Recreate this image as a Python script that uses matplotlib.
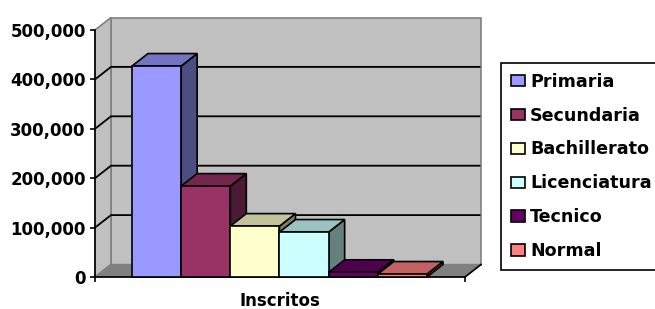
import matplotlib
matplotlib.use("Agg")
import matplotlib.pyplot as plt
from matplotlib.patches import Polygon, Patch
from matplotlib.lines import Line2D
from matplotlib.ticker import FuncFormatter, FixedLocator
from matplotlib.colors import to_rgb

# ---- data ----
categories = ["Primaria", "Secundaria", "Bachillerato", "Licenciatura", "Tecnico", "Normal"]
inscritos = [427000, 184000, 103000, 91000, 9500, 6000]
y_ticks = [0, 100000, 200000, 300000, 400000, 500000]
x_label = "Inscritos"

# ---- styles ----
front_colors = ["#9999FF", "#993366", "#FFFFCC", "#CCFFFF", "#660066", "#FF8080"]
WALL = "#C0C0C0"
FLOOR = "#808080"
WALL_EDGE = "#808080"
EDGE_LW = 1.2


def shade(c, f):
    r, g, b = to_rgb(c)
    return (r * f, g * f, b * f)


W, H, DPI = 655, 309, 100
fig = plt.figure(figsize=(W / DPI, H / DPI), dpi=DPI)
fig.patch.set_facecolor("white")

# front plane of the 3-D box
ax_left, ax_right, ax_top, ax_bottom = 95, 465, 30, 277
ax = fig.add_axes([ax_left / W, 1 - ax_bottom / H, (ax_right - ax_left) / W, (ax_bottom - ax_top) / H])
ax.set_facecolor("none")

n = len(categories)
x_lo, x_hi = -0.752, n + 0.773
y_max = y_ticks[-1]
ax.set_xlim(x_lo, x_hi)
ax.set_ylim(0, y_max)

# depth offset (16 px right, 12.5 px up) in data units
ddx = 16 * (x_hi - x_lo) / (ax_right - ax_left)
ddy = 12.5 * y_max / (ax_bottom - ax_top)

# walls
back = Polygon([(x_lo + ddx, ddy), (x_hi + ddx, ddy), (x_hi + ddx, y_max + ddy), (x_lo + ddx, y_max + ddy)],
               closed=True, fc=WALL, ec=WALL_EDGE, lw=1.2, clip_on=False, zorder=0.5)
side = Polygon([(x_lo, 0), (x_lo + ddx, ddy), (x_lo + ddx, y_max + ddy), (x_lo, y_max)],
               closed=True, fc=WALL, ec=WALL_EDGE, lw=1.2, clip_on=False, zorder=0.6)
floor = Polygon([(x_lo, 0), (x_hi, 0), (x_hi + ddx, ddy), (x_lo + ddx, ddy)],
                closed=True, fc=FLOOR, ec=WALL_EDGE, lw=1.0, clip_on=False, zorder=0.7)
for p in (back, side, floor):
    ax.add_patch(p)
ax.add_line(Line2D([x_hi, x_hi + ddx], [0, ddy], color="black", lw=EDGE_LW, clip_on=False, zorder=0.8))

# gridlines on side and back wall
for t in y_ticks[1:-1]:
    ax.add_line(Line2D([x_lo, x_lo + ddx, x_hi + ddx - 0.03], [t, t + ddy, t + ddy],
                       color="black", lw=1.3, clip_on=False, zorder=0.9))

# 3-D bars
for i, (v, c) in enumerate(zip(inscritos, front_colors)):
    x0, x1 = i, i + 1
    z = 3 + i
    front = Polygon([(x0, 0), (x1, 0), (x1, v), (x0, v)], closed=True,
                    fc=c, ec="black", lw=EDGE_LW, joinstyle="miter", clip_on=False, zorder=z)
    top = Polygon([(x0, v), (x1, v), (x1 + ddx, v + ddy), (x0 + ddx, v + ddy)], closed=True,
                  fc=shade(c, 0.76), ec="black", lw=EDGE_LW, joinstyle="miter", clip_on=False, zorder=z)
    rside = Polygon([(x1, 0), (x1 + ddx, ddy), (x1 + ddx, v + ddy), (x1, v)], closed=True,
                    fc=shade(c, 0.5), ec="black", lw=EDGE_LW, joinstyle="miter", clip_on=False, zorder=z)
    for p in (rside, top, front):
        ax.add_patch(p)

# axes
for s in ("top", "right"):
    ax.spines[s].set_visible(False)
for s in ("left", "bottom"):
    ax.spines[s].set_color("black")
    ax.spines[s].set_linewidth(EDGE_LW)
    ax.spines[s].set_zorder(2.5)

ax.yaxis.set_major_locator(FixedLocator(y_ticks))
ax.yaxis.set_major_formatter(FuncFormatter(lambda v, p: f"{int(v):,}"))
ax.tick_params(axis="y", length=3.6, width=EDGE_LW, pad=3, labelsize=12, colors="black")
for lab in ax.get_yticklabels():
    lab.set_fontweight("bold")

ax.xaxis.set_major_locator(FixedLocator([x_lo, x_hi]))
ax.tick_params(axis="x", length=3.6, width=EDGE_LW, labelbottom=False)
ax.set_xlabel(x_label, fontsize=12, fontweight="bold", labelpad=7)

# legend
handles = [Patch(fc=c, ec="black", lw=EDGE_LW) for c in front_colors]
leg = fig.legend(handles, categories, loc="upper left", bbox_to_anchor=(501 / W, 1 - 63 / H),
                 bbox_transform=fig.transFigure, frameon=True, fancybox=False, shadow=False,
                 framealpha=1, edgecolor="black", prop={"size": 12.6, "weight": "bold"},
                 handlelength=0.8, handleheight=0.63, handletextpad=0.32,
                 labelspacing=0.91, borderpad=0.55, borderaxespad=0)
leg.get_frame().set_linewidth(EDGE_LW)

fig.savefig("out.png", dpi=DPI, facecolor="white")
